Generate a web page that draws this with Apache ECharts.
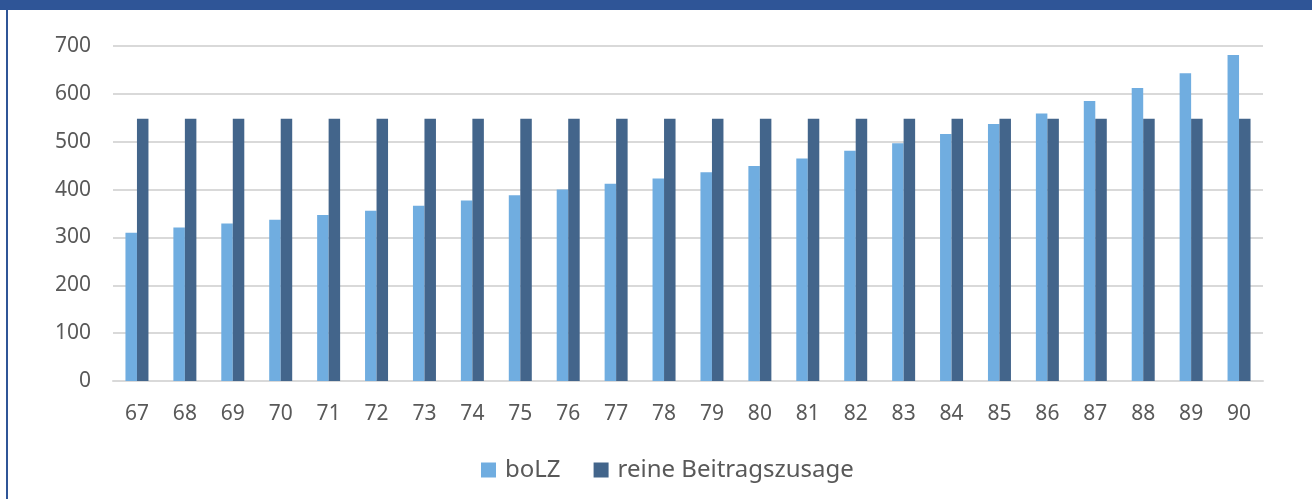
<!DOCTYPE html>
<html>
<head>
<meta charset="utf-8">
<script src="https://cdn.jsdelivr.net/npm/echarts@6/dist/echarts.min.js"></script>
<style>
  html, body { margin: 0; padding: 0; background: #fff; }
  #topbar { position: absolute; left: 0; top: 0; width: 1312px; height: 10px; background: #2f5597; }
  #leftline { position: absolute; left: 6px; top: 10px; width: 2px; height: 489px; background: #2f5597; }
  #main { position: absolute; left: 0; top: 0; width: 1312px; height: 499px; }
</style>
</head>
<body>
<div id="main"></div>
<div id="topbar"></div>
<div id="leftline"></div>
<script>
// Alter (Kategorien)
var ages = ['67','68','69','70','71','72','73','74','75','76','77','78',
            '79','80','81','82','83','84','85','86','87','88','89','90'];
// boLZ
var bolz = [310, 321, 329, 337, 347, 356, 366, 377, 388, 400, 412, 423,
            436, 449, 465, 481, 497, 516, 537, 559, 585, 612, 643, 681];
// reine Beitragszusage
var reine = [548, 548, 548, 548, 548, 548, 548, 548, 548, 548, 548, 548,
             548, 548, 548, 548, 548, 548, 548, 548, 548, 548, 548, 548];

var myChart = echarts.init(document.getElementById('main'));

var textStyle = { color: '#595959', fontFamily: 'Noto Sans, sans-serif', fontSize: 21 };

var option = {
  animation: false,
  grid: { left: 113, right: 49, top: 46, bottom: 118 },
  legend: {
    data: ['boLZ', 'reine Beitragszusage'],
    top: 453,
    left: 476,
    itemWidth: 15,
    itemHeight: 15,
    itemGap: 33,
    icon: 'rect',
    textStyle: { color: '#595959', fontFamily: 'Noto Sans, sans-serif', fontSize: 24, padding: [0, 0, 0, 4] }
  },
  xAxis: {
    type: 'category',
    data: ages,
    axisLine: { lineStyle: { color: '#d9d9d9', width: 2 } },
    axisTick: { show: false },
    axisLabel: Object.assign({ margin: 23 }, textStyle)
  },
  yAxis: {
    type: 'value',
    min: 0,
    max: 700,
    interval: 100,
    axisLine: { show: false },
    axisTick: { show: false },
    splitLine: { lineStyle: { color: '#d9d9d9', width: 2 } },
    axisLabel: Object.assign({ margin: 22 }, textStyle)
  },
  series: [
    {
      name: 'boLZ',
      type: 'bar',
      data: bolz,
      barWidth: 11.5,
      barGap: '0%',
      itemStyle: { color: '#70ade0' }
    },
    {
      name: 'reine Beitragszusage',
      type: 'bar',
      data: reine,
      barWidth: 11.5,
      itemStyle: { color: '#43658b' }
    }
  ]
};

myChart.setOption(option);
</script>
</body>
</html>
